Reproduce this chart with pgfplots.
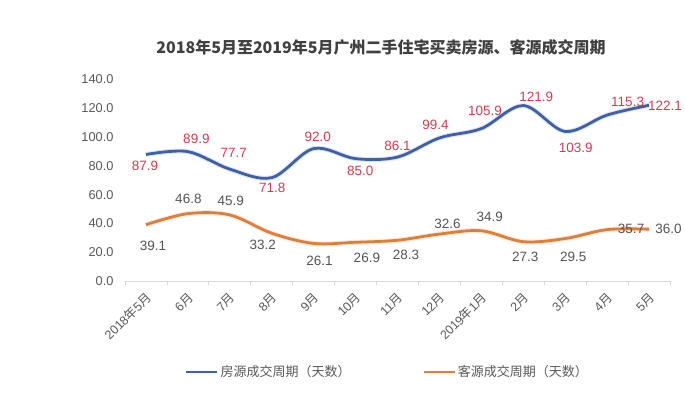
\documentclass[border=0pt]{standalone}
\usepackage{pgfplots}
\usepackage{pgfplotstable}
\pgfplotsset{compat=1.18}
\usepackage{fontspec}
\setmainfont{Liberation Sans}
\newfontfamily\cjk{Noto Sans CJK SC}
\newcommand{\yue}{{\cjk 月}}
\newcommand{\nian}{{\cjk 年}}
\definecolor{blueline}{RGB}{62,96,168}
\definecolor{orangeline}{RGB}{224,126,56}
\definecolor{redlab}{RGB}{212,62,78}
\definecolor{graylab}{RGB}{85,85,85}
\definecolor{ticklab}{RGB}{89,89,89}
\definecolor{axisgray}{RGB}{217,217,217}
\definecolor{titlecol}{RGB}{64,64,64}

\pgfplotstableread{
x y dx dy
0 87.9 -1 -11
1 89.9 8.5 13
2 77.7 4 16
3 71.8 0.5 -10
4 92.0 4 11.6
5 85.0 4.7 -12.5
6 86.1 0 11.5
7 99.4 -4 13
8 105.9 3.7 18
9 121.9 13 8.5
10 103.9 10.5 -16.7
11 115.3 20.5 13
12 122.1 16 -0.7
}\bluedata

\pgfplotstableread{
x y dx dy
0 39.1 7 -20.7
1 46.8 0.5 14.6
2 45.9 1 14
3 33.2 -9 -12
4 26.1 5.8 -17.8
5 26.9 11.3 -16
6 28.3 8.5 -14.3
7 32.6 8 10
8 34.9 8.5 14.4
9 27.3 2 -15.6
10 29.5 8 -18.8
11 35.7 24 0.7
12 36.0 19.5 0
}\orangedata

\begin{document}
\begin{tikzpicture}[x=1pt,y=1pt]
\path[use as bounding box, fill=white] (0,0) rectangle (685,393);
\node[font=\cjk\bfseries\fontsize{16}{19}\selectfont, text=titlecol] at (381,346) {2018年5月至2019年5月广州二手住宅买卖房源、客源成交周期};
\begin{axis}[
  at={(125pt,112pt)}, anchor=south west,
  scale only axis, width=545pt, height=201.5pt,
  xmin=-0.5, xmax=12.5, ymin=0, ymax=140,
  axis x line*=bottom, axis y line*=left,
  y axis line style={draw=none},
  x axis line style={axisgray, line width=0.8pt},
  ytick={0,20,...,140},
  yticklabel style={font=\fontsize{12.8}{15}\selectfont, text=ticklab, xshift=-8pt,
    /pgf/number format/fixed, /pgf/number format/fixed zerofill, /pgf/number format/precision=1, /pgf/number format/assume math mode=true},
  major tick length=0pt,
  xtick={0,...,12},
  xticklabels={2018\nian5\yue,6\yue,7\yue,8\yue,9\yue,10\yue,11\yue,12\yue,2019\nian1\yue,2\yue,3\yue,4\yue,5\yue},
  xticklabel style={font=\fontsize{12.5}{15}\selectfont, text=ticklab, xshift=3pt, yshift=-14pt, rotate=45, anchor=east, inner sep=0pt},
  minor xtick={-0.5,0.5,...,12.5},
  minor tick length=4pt,
  tick align=outside,
  minor tick style={axisgray, line width=0.8pt},
  clip=false,
  legend style={at={(rel axis cs:0.11,-0.4516)}, anchor=west, draw=none, fill=none,
    font=\cjk\fontsize{13}{15}\selectfont, text=ticklab, inner sep=0pt},
  legend columns=2,
  legend image code/.code={\draw[line width=2.4pt] (0pt,0pt) -- (31pt,0pt);},
  nodes near coords,
  point meta=y,
  visualization depends on={\thisrow{dx} \as \dx},
  visualization depends on={\thisrow{dy} \as \dy},
  every node near coord/.append style={anchor=center, xshift=\dx pt, yshift=\dy pt,
    font=\fontsize{13.5}{16}\selectfont,
    /pgf/number format/fixed, /pgf/number format/fixed zerofill, /pgf/number format/precision=1, /pgf/number format/assume math mode=true},
]
\addplot[blueline!60, line width=5pt, opacity=0.25, smooth, tension=0.55, nodes near coords=\empty, forget plot] table[x=x,y=y] {\bluedata};
\addplot[orangeline!60, line width=5pt, opacity=0.25, smooth, tension=0.55, nodes near coords=\empty, forget plot] table[x=x,y=y] {\orangedata};
\addplot[blueline, line width=2.8pt, smooth, tension=0.55,
  every node near coord/.append style={text=redlab}] table[x=x,y=y] {\bluedata};
\addlegendentry{\makebox[200pt][l]{房源成交周期（天数）}}
\addplot[orangeline, line width=2.8pt, smooth, tension=0.55,
  every node near coord/.append style={text=graylab}] table[x=x,y=y] {\orangedata};
\addlegendentry{客源成交周期（天数）}
\end{axis}
\end{tikzpicture}
\end{document}
